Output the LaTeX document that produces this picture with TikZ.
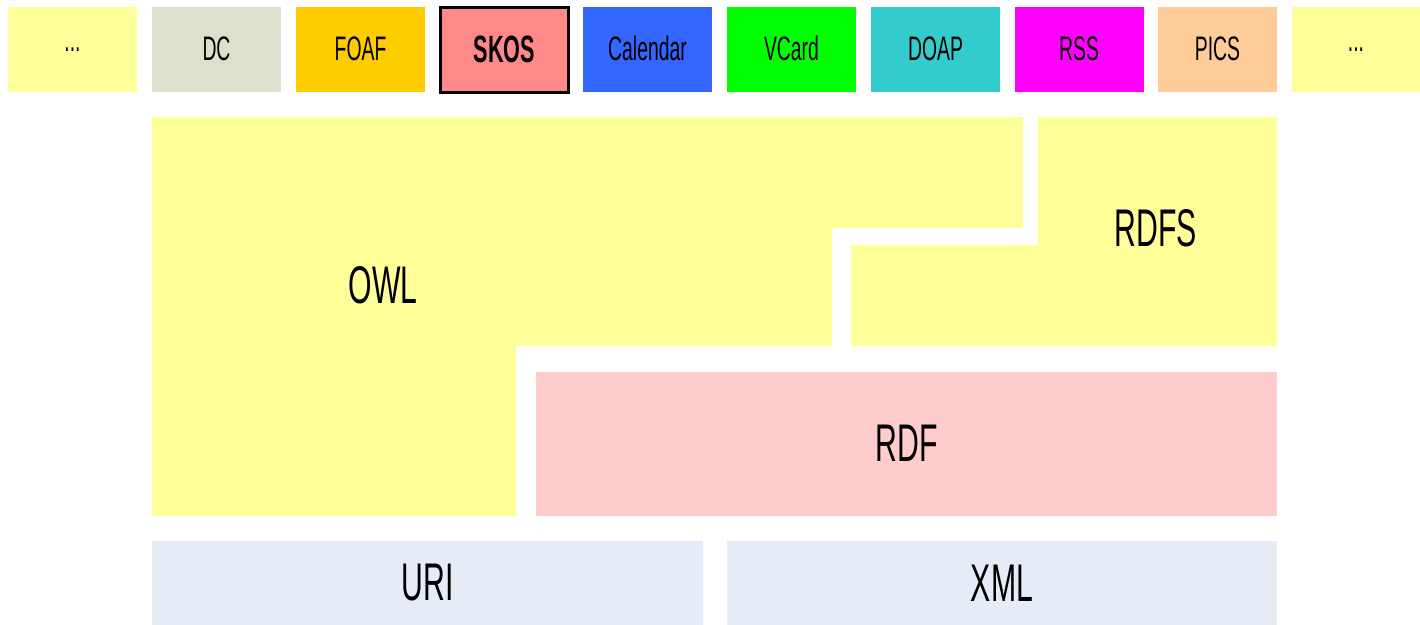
\documentclass[tikz,border=0pt]{standalone}
\usepackage{xcolor}
\usepackage{fontspec}
\setmainfont[FakeStretch=0.57]{Liberation Sans}
\usepackage{tikz}
\usetikzlibrary{positioning}

\definecolor{layeryellow}{HTML}{FFFF99}
\definecolor{dcgrey}{HTML}{DDE0CC}
\definecolor{foafgold}{HTML}{FFCC00}
\definecolor{skosred}{HTML}{FF8888}
\definecolor{calblue}{HTML}{3366FF}
\definecolor{vcardgreen}{HTML}{00FF00}
\definecolor{doapteal}{HTML}{33CCCC}
\definecolor{rssmagenta}{HTML}{FF00FF}
\definecolor{picspeach}{HTML}{FFCC99}
\definecolor{rdfpink}{HTML}{FFCCCC}
\definecolor{basegrey}{HTML}{E6ECF6}

\tikzset{
  vocab/.style={fill=#1, minimum width=64.5pt, minimum height=42.5pt,
    inner sep=0pt, outer sep=0pt, font=\fontsize{17}{18}\selectfont},
  layer/.style={fill=#1, inner sep=0pt, outer sep=0pt,
    font=\fontsize{26.5}{30}\selectfont},
  layerlabel/.style={inner sep=0pt, font=\fontsize{26.5}{30}\selectfont}
}

\begin{document}
\begin{tikzpicture}[x=0.5pt, y=-0.5pt]
\useasboundingbox (0,0) rectangle (1420,625);

% vocabularies on top
\node[vocab=layeryellow] (more_left) at (72.5,49.5) {...};
\node[vocab=dcgrey] (dc) at (216.5,49.5) {\raisebox{1pt}{DC}};
\node[vocab=foafgold] (foaf) at (360.5,49.5) {\raisebox{1pt}{FOAF}};
\node[vocab=skosred, draw=black, line width=1.5pt, minimum width=64pt,
      font=\fontsize{19}{20}\selectfont\bfseries] (skos) at (504.5,50) {\raisebox{1pt}{SKOS}};
\node[vocab=calblue] (calendar) at (647.5,49.5) {\raisebox{1pt}{Calendar}};
\node[vocab=vcardgreen] (vcard) at (791.5,49.5) {\raisebox{1pt}{VCard}};
\node[vocab=doapteal] (doap) at (935.5,49.5) {\raisebox{1pt}{DOAP}};
\node[vocab=rssmagenta] (rss) at (1079,49.5) {\raisebox{1pt}{RSS}};
\node[vocab=picspeach, minimum width=59.5pt] (pics) at (1217.5,49.5) {\raisebox{1pt}{PICS}};
\node[vocab=layeryellow, minimum width=64pt] (more_right) at (1356,49.5) {...};

% ontology layers
\fill[layeryellow] (152,117) -- (1023,117) -- (1023,228) -- (832,228)
  -- (832,346) -- (516,346) -- (516,516) -- (152,516) -- cycle;
\node[layerlabel] (owl) at (383,285) {OWL};

\fill[layeryellow] (1038,117) -- (1277,117) -- (1277,346) -- (851,346)
  -- (851,245) -- (1038,245) -- cycle;
\node[layerlabel] (rdfs) at (1156,228) {RDFS};

\node[layer=rdfpink, minimum width=370.5pt, minimum height=72pt] (rdf) at (906.5,444) {\raisebox{1pt}{RDF}};

% base
\node[layer=basegrey, minimum width=275.5pt, minimum height=42pt] (uri) at (427.5,583) {URI};
\node[layer=basegrey, minimum width=275pt, minimum height=42pt] (xml) at (1002,583) {XML};

\end{tikzpicture}
\end{document}
